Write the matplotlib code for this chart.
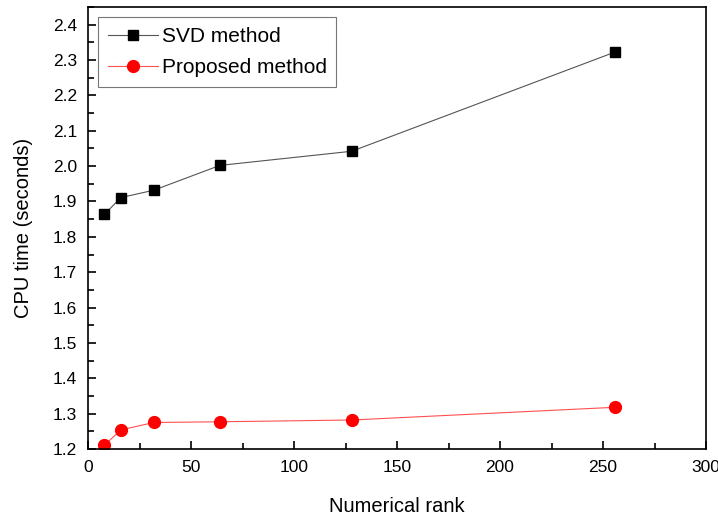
import matplotlib
matplotlib.use('Agg')
import matplotlib.pyplot as plt
from matplotlib.ticker import MultipleLocator

plt.rcParams['font.family'] = ['Liberation Sans', 'DejaVu Sans']

rank = [8, 16, 32, 64, 128, 256]
svd_time = [1.864, 1.911, 1.932, 2.002, 2.042, 2.323]
proposed_time = [1.211, 1.254, 1.275, 1.277, 1.282, 1.318]

fig = plt.figure(figsize=(7.18, 5.17), dpi=100)
ax = fig.add_axes([88 / 718, 1 - 449 / 517, (706 - 88) / 718, (449 - 7) / 517])

ax.plot(rank, svd_time, color='#555555', lw=0.8, marker='s', ms=7.5,
        mfc='black', mec='black', label='SVD method')
ax.plot(rank, proposed_time, color='#ff5050', lw=0.8, marker='o', ms=8.5,
        mfc='red', mec='red', label='Proposed method')

ax.set_xlim(0, 300)
ax.set_ylim(1.2, 2.45)
ax.xaxis.set_major_locator(MultipleLocator(50))
ax.xaxis.set_minor_locator(MultipleLocator(25))
ax.yaxis.set_major_locator(MultipleLocator(0.1))
ax.yaxis.set_minor_locator(MultipleLocator(0.05))
ax.tick_params(which='both', direction='in', labelsize=12.5, width=1.2)
ax.tick_params(which='major', length=6, pad=8)
ax.tick_params(which='minor', length=4)
for s in ax.spines.values():
    s.set_linewidth(1.2)

ax.set_xlabel('Numerical rank', fontsize=14.5, labelpad=16)
ax.set_ylabel('CPU time (seconds)', fontsize=14.5, labelpad=14)

leg = ax.legend(loc='upper left', fontsize=15, frameon=True, fancybox=False,
                edgecolor='#555555', borderaxespad=0.5, handlelength=2.4,
                handletextpad=0.2, labelspacing=0.6, borderpad=0.45)
leg.get_frame().set_linewidth(0.8)

fig.savefig('out.png', dpi=100)
